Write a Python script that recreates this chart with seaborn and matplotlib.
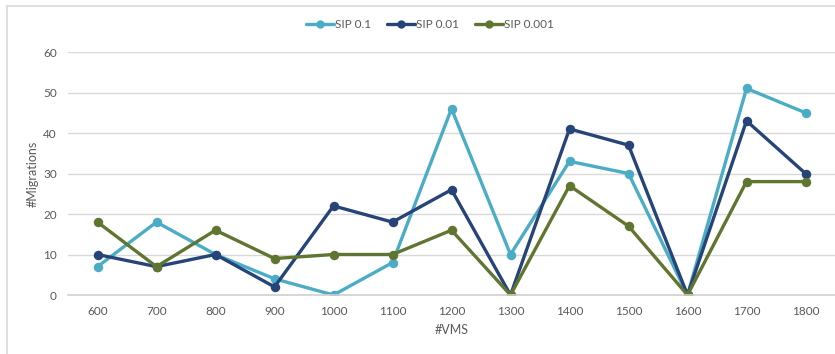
import numpy as np
import pandas as pd
import matplotlib
matplotlib.use("Agg")
import matplotlib.pyplot as plt
import seaborn as sns
from matplotlib.lines import Line2D

vms = ["600", "700", "800", "900", "1000", "1100", "1200", "1300", "1400", "1500", "1600", "1700", "1800"]
sip_01 = [7, 18, 10, 4, 0, 8, 46, 10, 33, 30, 0, 51, 45]
sip_001 = [10, 7, 10, 2, 22, 18, 26, 0, 41, 37, 0, 43, 30]
sip_0001 = [18, 7, 16, 9, 10, 10, 16, 0, 27, 17, 0, 28, 28]

series = ["SIP 0.1", "SIP 0.01", "SIP 0.001"]
colors = ["#4BACC6", "#264478", "#5F7530"]

df = pd.DataFrame({"VMS": vms, "SIP 0.1": sip_01, "SIP 0.01": sip_001, "SIP 0.001": sip_0001})
long = df.melt(id_vars="VMS", var_name="series", value_name="migrations")

sns.set_style("white")
plt.rcParams['font.family'] = ['Lato', 'DejaVu Sans']

W, H = 835, 354
fig = plt.figure(figsize=(W / 100, H / 100), dpi=100)
ax = fig.add_axes([68 / W, 1 - 295 / H, (835 - 68) / W, (295 - 52) / H])

sns.pointplot(data=long, x="VMS", y="migrations", hue="series", hue_order=series,
              palette=colors, ax=ax, markers="o", markersize=5, linewidth=2.4,
              legend=False)

ax.set_ylim(0, 60)
ax.set_xlim(-0.5, 12.5)
ax.set_yticks(range(0, 61, 10))
ax.yaxis.grid(True, color="#D9D9D9", linewidth=1)
ax.set_axisbelow(True)
for s in ["top", "right", "left"]:
    ax.spines[s].set_visible(False)
ax.spines["bottom"].set_color("#D0D0D0")
ax.spines["bottom"].set_linewidth(1.2)
ax.tick_params(axis="both", length=0, labelsize=8.5, labelcolor="#595959", pad=8)
ax.tick_params(axis="y", pad=8)
ax.set_xlabel("#VMS", fontsize=9, color="#595959", labelpad=5)
ax.set_ylabel("#Migrations", fontsize=9, color="#595959", labelpad=3)

handles = [Line2D([0], [0], color=c, lw=2.4, marker="o", markersize=5) for c in colors]
fig.legend(handles, series, loc="center", bbox_to_anchor=(430 / W, 1 - 25 / H), ncol=3,
           frameon=False, fontsize=8.5, labelcolor="#595959", handlelength=2.4,
           handletextpad=0.1, columnspacing=1.3)

# chart frame (cropped)
fig.add_artist(Line2D([7 / W, 1], [1 - 6 / H, 1 - 6 / H], color="#D9D9D9", lw=1.2))
fig.add_artist(Line2D([7 / W, 7 / W], [0, 1 - 6 / H], color="#D9D9D9", lw=1.2))

fig.savefig("out.png", dpi=100)
